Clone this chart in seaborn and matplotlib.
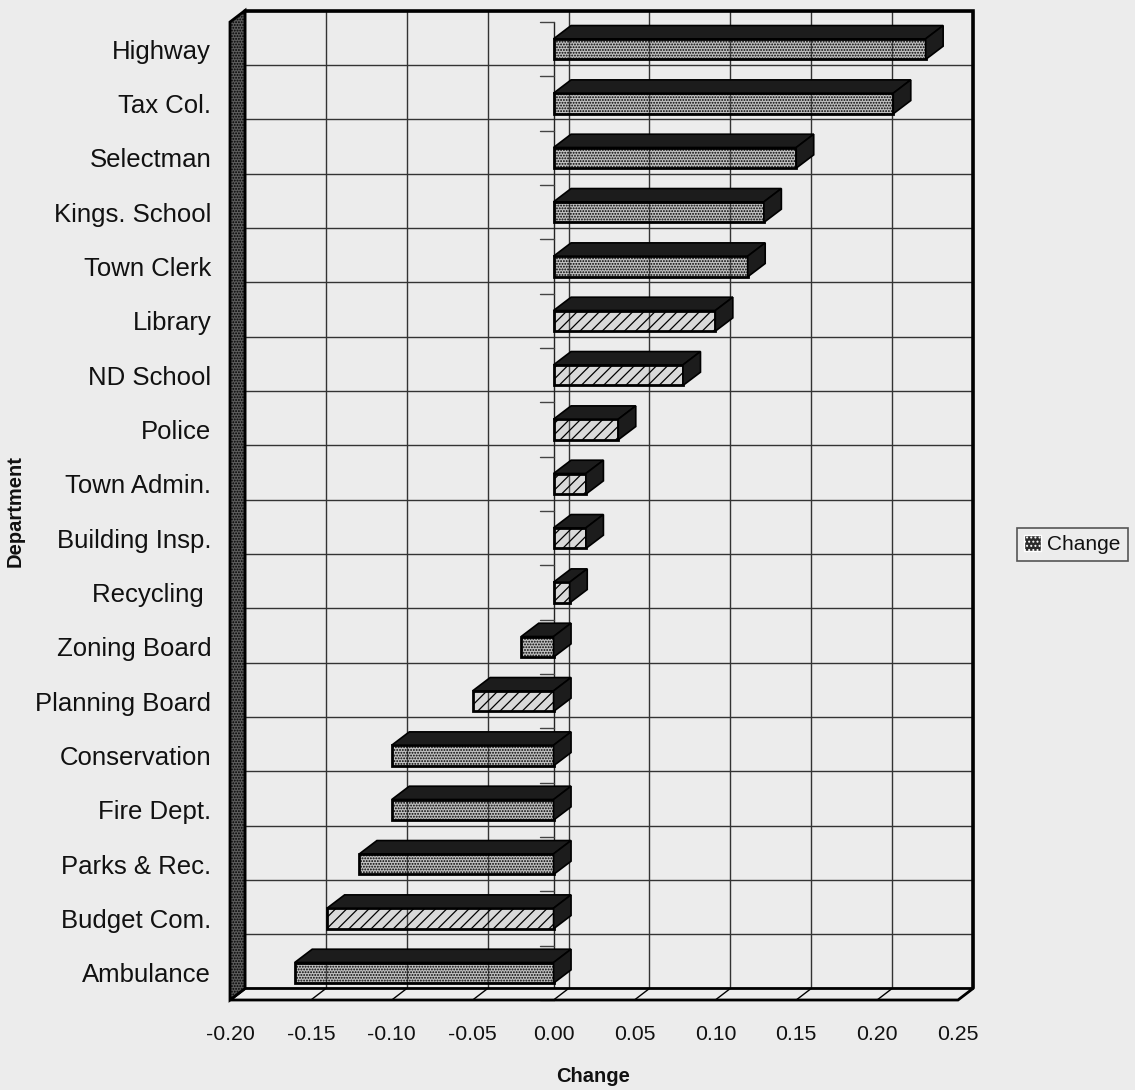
import numpy as np
import pandas as pd
import matplotlib
matplotlib.use("Agg")
import matplotlib.pyplot as plt
from matplotlib.patches import Polygon, Patch
import seaborn as sns

# ---- data -------------------------------------------------------------
departments = [
    "Highway", "Tax Col.", "Selectman", "Kings. School", "Town Clerk",
    "Library", "ND School", "Police", "Town Admin.", "Building Insp.",
    "Recycling ", "Zoning Board", "Planning Board", "Conservation",
    "Fire Dept.", "Parks & Rec.", "Budget Com.", "Ambulance",
]
change = [0.23, 0.21, 0.15, 0.13, 0.12, 0.10, 0.08, 0.04, 0.02, 0.02,
          0.01, -0.02, -0.05, -0.10, -0.10, -0.12, -0.14, -0.16]
x_ticks = [-0.20, -0.15, -0.10, -0.05, 0.00, 0.05, 0.10, 0.15, 0.20, 0.25]
x_tick_labels = ["-0.20", "-0.15", "-0.10", "-0.05", "0.00",
                 "0.05", "0.10", "0.15", "0.20", "0.25"]

# fill texture of each bar's front face
face_hatch = ["......"] * 5 + ["///"] * 6 + ["......"] + ["///"] + ["......"] * 3 + ["///"] + ["......"]

# ---- style ------------------------------------------------------------
BG = "#ececec"
DARK = "#1c1c1c"
sns.set_style("white")
plt.rcParams["font.family"] = ["Liberation Sans", "DejaVu Sans"]
plt.rcParams["hatch.linewidth"] = 0.9
plt.rcParams["text.color"] = "#111111"
plt.rcParams["xtick.color"] = "#111111"
plt.rcParams["ytick.color"] = "#111111"

W, H = 1135, 1090
fig = plt.figure(figsize=(W / 100, H / 100), dpi=100, facecolor=BG)
# front plane of the 3-D box
ax = fig.add_axes([230 / W, 1 - 1000 / H, 728 / W, 978 / H])
ax.set_facecolor("none")

df = pd.DataFrame({"Department": departments, "Change": change})
sns.barplot(data=df, x="Change", y="Department", orient="h", ax=ax,
            width=0.38, color=BG, edgecolor="black", linewidth=2,
            saturation=1, zorder=2)

x0, x1 = x_ticks[0], x_ticks[-1]
n = len(departments)
ax.set_xlim(x0, x1)
ax.set_ylim(n - 0.5, -0.5)

# depth offsets (data units): back wall and bar depth
px_x = 728 / (x1 - x0)
px_y = 978 / n
DXw, DYw = 15 / px_x, -11.5 / px_y
DXb, DYb = 17.5 / px_x, -13.3 / px_y

# ---- back wall grid ---------------------------------------------------
for xt in x_ticks:
    ax.plot([xt + DXw, xt + DXw], [-0.5 + DYw, n - 0.5 + DYw], color="#333333",
            lw=1, zorder=1, clip_on=False)
for b in np.arange(-0.5, n, 1.0):
    ax.plot([x0 + DXw, x1 + DXw], [b + DYw, b + DYw], color="#333333",
            lw=1, zorder=1, clip_on=False)
# back wall frame (top and right)
ax.plot([x0 + DXw, x1 + DXw, x1 + DXw], [-0.5 + DYw, -0.5 + DYw, n - 0.5 + DYw],
        color="black", lw=2.6, zorder=1.2, clip_on=False, solid_joinstyle="miter")

# zero line of the category axis with its boundary ticks
ax.plot([0, 0], [-0.5, n - 0.5], color="#222222", lw=1, zorder=1.1, clip_on=False)
tick_len = 14 / px_x
for b in np.arange(-0.5, n, 1.0):
    ax.plot([-tick_len, 0], [b, b], color="#444444", lw=1, zorder=1.1, clip_on=False)

# ---- floor ------------------------------------------------------------
floor = Polygon([(x0, n - 0.5), (x1, n - 0.5), (x1 + DXw, n - 0.5 + DYw),
                 (x0 + DXw, n - 0.5 + DYw)], closed=True, facecolor=BG,
                edgecolor="black", lw=2, zorder=1.5, clip_on=False, joinstyle="miter")
ax.add_patch(floor)
for xt in x_ticks:
    ax.plot([xt, xt + DXw], [n - 0.5, n - 0.5 + DYw], color="black", lw=1,
            zorder=1.6, clip_on=False)

# ---- left wall --------------------------------------------------------
wall = Polygon([(x0, -0.5), (x0, n - 0.5), (x0 + DXw, n - 0.5 + DYw),
                (x0 + DXw, -0.5 + DYw)], closed=True, facecolor="#5c5c5c",
               edgecolor="black", hatch="......", lw=2, zorder=1.7,
               clip_on=False, joinstyle="miter")
ax.add_patch(wall)

# ---- bars: textured front faces plus dark top and side faces ------------
bars = [p for p in ax.patches if p not in (floor, wall)]
for p, hatch in zip(bars, face_hatch):
    p.set_hatch(hatch)
    tint = (0.5, 0.5, 0.5, 0.40) if "." in hatch else (0.6, 0.6, 0.6, 0.22)
    p.set_facecolor(tint)
    p.set_edgecolor("black")
    p.set_linewidth(2)
    p.set_zorder(2)
    xa = min(p.get_x(), p.get_x() + p.get_width())
    xb = max(p.get_x(), p.get_x() + p.get_width())
    ya = p.get_y()
    yb = p.get_y() + p.get_height()
    top = Polygon([(xa, ya), (xb, ya), (xb + DXb, ya + DYb), (xa + DXb, ya + DYb)],
                  closed=True, facecolor=DARK, edgecolor="black", lw=1.2,
                  zorder=4, clip_on=False, joinstyle="miter")
    side = Polygon([(xb, ya), (xb, yb), (xb + DXb, yb + DYb), (xb + DXb, ya + DYb)],
                   closed=True, facecolor=DARK, edgecolor="black", lw=1.2,
                   zorder=4, clip_on=False, joinstyle="miter")
    ax.add_patch(top)
    ax.add_patch(side)

# ---- axes, ticks, labels ---------------------------------------------
for s in ax.spines.values():
    s.set_visible(False)

ax.set_yticks(range(n), labels=departments)
ax.set_yticks(np.arange(-0.5, n, 1.0), minor=True)
ax.tick_params(axis="y", which="major", length=0, pad=13.5, labelsize=18.5)
ax.tick_params(axis="y", which="minor", length=10.8, width=1, color="#444444",
               direction="out")
ax.set_xticks(x_ticks, labels=x_tick_labels)
ax.tick_params(axis="x", which="major", length=10.8, width=1, color="#555555",
               direction="out", pad=7, labelsize=15.3)
ax.set_xlabel("")
ax.set_ylabel("")

fig.text(593 / W, 1 - 1076 / H, "Change", ha="center", va="center",
         fontsize=14.5, fontweight="bold")
fig.text(15 / W, 1 - 511 / H, "Department", ha="center", va="center",
         rotation=90, fontsize=14.5, fontweight="bold")

# ---- legend -------------------------------------------------------------
with plt.rc_context({"hatch.color": "#d8d8d8"}):
    handle = Patch(facecolor="#2a2a2a", hatch="....")
leg = fig.legend(handles=[handle], labels=["Change"], loc="center left",
                 bbox_to_anchor=(1017 / W, 1 - 544.5 / H), frameon=True,
                 fontsize=15, handlelength=0.8, handleheight=0.8,
                 handletextpad=0.3, borderpad=0.35, borderaxespad=0,
                 fancybox=False, edgecolor="#555555", facecolor=BG, framealpha=1)
leg.get_frame().set_linewidth(1.2)

fig.savefig("out.png", dpi=100, facecolor=BG)
